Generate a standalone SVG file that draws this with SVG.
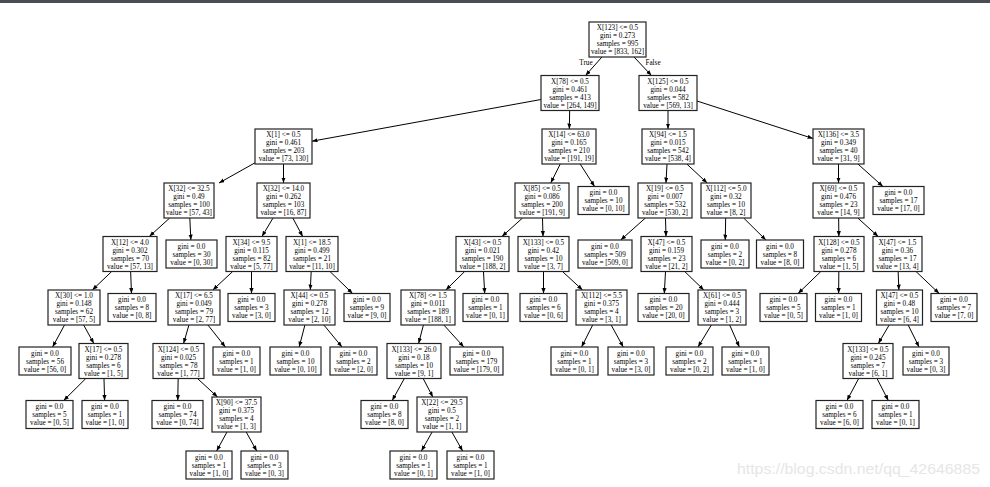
<svg xmlns="http://www.w3.org/2000/svg" width="990" height="487" viewBox="0 0 990 487">
<defs>
<marker id="a" markerWidth="6" markerHeight="5" refX="5.5" refY="2.1" orient="auto" markerUnits="userSpaceOnUse"><path d="M0,0 L5.5,2.1 L0,4.2 z" fill="#000"/></marker>
<style>
.nd rect{fill:#fff;stroke:#222;stroke-width:1.2}
text{font-family:"Liberation Serif","Times New Roman",serif;font-size:7.2px;text-anchor:middle;fill:#000}
.ed line{stroke:#000;stroke-width:1;marker-end:url(#a)}
.lb{font-size:7.2px}
.wm{font-family:"Liberation Sans",Arial,sans-serif;font-size:15px;fill:#e6e6e6;text-anchor:start}
</style>
</defs>
<rect x="0" y="0" width="990" height="487" fill="#fff"/>
<rect x="0" y="0" width="990" height="3" fill="#4a4d52"/>
<text class="wm" x="737" y="474" textLength="243" lengthAdjust="spacingAndGlyphs">https://blog.csdn.net/qq_42646885</text>
<g class="ed">
<line x1="601.96" y1="57" x2="585.54" y2="75.5"/>
<line x1="634.02" y1="57" x2="651.48" y2="75.5"/>
<line x1="541" y1="99.5" x2="312" y2="141.2"/>
<line x1="569.67" y1="110.5" x2="569.33" y2="129"/>
<line x1="668" y1="110.5" x2="668" y2="129"/>
<line x1="697" y1="101" x2="813" y2="138.5"/>
<line x1="255" y1="162.8" x2="219" y2="183"/>
<line x1="283.5" y1="164" x2="283.5" y2="183"/>
<line x1="560.25" y1="164" x2="550.75" y2="183"/>
<line x1="580.18" y1="164" x2="594.56" y2="186.5"/>
<line x1="667.03" y1="164" x2="665.97" y2="183"/>
<line x1="686.8" y1="164" x2="707.2" y2="183"/>
<line x1="838.5" y1="164" x2="838.5" y2="183"/>
<line x1="857.94" y1="164" x2="882.94" y2="186.5"/>
<line x1="169.7" y1="218" x2="149.3" y2="236.5"/>
<line x1="189.82" y1="218" x2="190.85" y2="240"/>
<line x1="273.03" y1="218" x2="261.97" y2="236.5"/>
<line x1="292.82" y1="218" x2="302.68" y2="236.5"/>
<line x1="522.54" y1="218" x2="501.96" y2="236.5"/>
<line x1="542.49" y1="218" x2="543.01" y2="236.5"/>
<line x1="645.37" y1="218" x2="620.7" y2="240"/>
<line x1="665.49" y1="218" x2="666.01" y2="236.5"/>
<line x1="725.67" y1="218" x2="725.26" y2="240"/>
<line x1="743.66" y1="218" x2="765.87" y2="240"/>
<line x1="838.66" y1="218" x2="838.84" y2="236.5"/>
<line x1="857.8" y1="218" x2="878.2" y2="236.5"/>
<line x1="111.68" y1="271.5" x2="92.32" y2="290"/>
<line x1="130.65" y1="271.5" x2="131.48" y2="293.5"/>
<line x1="232.69" y1="271.5" x2="212.81" y2="290"/>
<line x1="251.5" y1="271.5" x2="251.5" y2="293.5"/>
<line x1="311.18" y1="271.5" x2="310.32" y2="290"/>
<line x1="329.99" y1="271.5" x2="352.61" y2="293.5"/>
<line x1="464.67" y1="271.5" x2="445.83" y2="290"/>
<line x1="483.48" y1="271.5" x2="484.71" y2="293.5"/>
<line x1="543.5" y1="271.5" x2="543.5" y2="293.5"/>
<line x1="562.47" y1="271.5" x2="582.53" y2="290"/>
<line x1="665.52" y1="271.5" x2="664.29" y2="293.5"/>
<line x1="684.66" y1="271.5" x2="703.84" y2="290"/>
<line x1="820.84" y1="271.5" x2="798.02" y2="293.5"/>
<line x1="838.84" y1="271.5" x2="838.63" y2="293.5"/>
<line x1="898.15" y1="271.5" x2="898.85" y2="290"/>
<line x1="915.98" y1="271.5" x2="939.21" y2="293.5"/>
<line x1="64.51" y1="325" x2="52.59" y2="347"/>
<line x1="83.65" y1="325" x2="93.85" y2="343.5"/>
<line x1="188.93" y1="325" x2="183.57" y2="343.5"/>
<line x1="207.9" y1="325" x2="225.38" y2="347"/>
<line x1="304.92" y1="325" x2="299.16" y2="347"/>
<line x1="323.89" y1="325" x2="341.99" y2="347"/>
<line x1="423.42" y1="325" x2="418.58" y2="343.5"/>
<line x1="443.87" y1="325" x2="463.81" y2="347"/>
<line x1="592.67" y1="325" x2="581.57" y2="347"/>
<line x1="611.15" y1="325" x2="623.28" y2="347"/>
<line x1="711.37" y1="325" x2="698" y2="347"/>
<line x1="729.69" y1="325" x2="739.35" y2="347"/>
<line x1="889.2" y1="325" x2="878.3" y2="343.5"/>
<line x1="908.17" y1="325" x2="919.07" y2="347"/>
<line x1="85.84" y1="378.5" x2="63.63" y2="400.5"/>
<line x1="103.99" y1="378.5" x2="104.61" y2="400.5"/>
<line x1="178.17" y1="378.5" x2="177.76" y2="400.5"/>
<line x1="197.47" y1="378.5" x2="217.53" y2="397"/>
<line x1="404.35" y1="378.5" x2="392.22" y2="400.5"/>
<line x1="423.16" y1="378.5" x2="432.84" y2="397"/>
<line x1="858.68" y1="378.5" x2="846.96" y2="400.5"/>
<line x1="877" y1="378.5" x2="888.3" y2="400.5"/>
<line x1="226.97" y1="432" x2="216.62" y2="451"/>
<line x1="246.2" y1="432" x2="256.74" y2="451"/>
<line x1="432.12" y1="432" x2="421.4" y2="451"/>
<line x1="451.88" y1="432" x2="462.6" y2="451"/>
</g>
<text class="lb" x="586" y="64.5">True</text>
<text class="lb" x="653" y="64.5">False</text>
<g class="nd">
<g id="n0"><rect x="589" y="22" width="57" height="35"/><text x="617.5" y="30">X[123] &lt;= 0.5</text><text x="617.5" y="38">gini = 0.273</text><text x="617.5" y="46">samples = 995</text><text x="617.5" y="54">value = [833, 162]</text></g>
<g id="n1"><rect x="541" y="75.5" width="58" height="35"/><text x="570" y="83.5">X[78] &lt;= 0.5</text><text x="570" y="91.5">gini = 0.461</text><text x="570" y="99.5">samples = 413</text><text x="570" y="107.5">value = [264, 149]</text></g>
<g id="n2"><rect x="639" y="75.5" width="58" height="35"/><text x="668" y="83.5">X[125] &lt;= 0.5</text><text x="668" y="91.5">gini = 0.044</text><text x="668" y="99.5">samples = 582</text><text x="668" y="107.5">value = [569, 13]</text></g>
<g id="n3"><rect x="255" y="129" width="57" height="35"/><text x="283.5" y="137">X[1] &lt;= 0.5</text><text x="283.5" y="145">gini = 0.461</text><text x="283.5" y="153">samples = 203</text><text x="283.5" y="161">value = [73, 130]</text></g>
<g id="n4"><rect x="542" y="129" width="54" height="35"/><text x="569" y="137">X[14] &lt;= 63.0</text><text x="569" y="145">gini = 0.165</text><text x="569" y="153">samples = 210</text><text x="569" y="161">value = [191, 19]</text></g>
<g id="n5"><rect x="642" y="129" width="52" height="35"/><text x="668" y="137">X[94] &lt;= 1.5</text><text x="668" y="145">gini = 0.015</text><text x="668" y="153">samples = 542</text><text x="668" y="161">value = [538, 4]</text></g>
<g id="n6"><rect x="813" y="129" width="51" height="35"/><text x="838.5" y="137">X[136] &lt;= 3.5</text><text x="838.5" y="145">gini = 0.349</text><text x="838.5" y="153">samples = 40</text><text x="838.5" y="161">value = [31, 9]</text></g>
<g id="n7"><rect x="164" y="183" width="50" height="35"/><text x="189" y="191">X[32] &lt;= 32.5</text><text x="189" y="199">gini = 0.49</text><text x="189" y="207">samples = 100</text><text x="189" y="215">value = [57, 43]</text></g>
<g id="n8"><rect x="257" y="183" width="53" height="35"/><text x="283.5" y="191">X[32] &lt;= 14.0</text><text x="283.5" y="199">gini = 0.262</text><text x="283.5" y="207">samples = 103</text><text x="283.5" y="215">value = [16, 87]</text></g>
<g id="n9"><rect x="515" y="183" width="54" height="35"/><text x="542" y="191">X[85] &lt;= 0.5</text><text x="542" y="199">gini = 0.086</text><text x="542" y="207">samples = 200</text><text x="542" y="215">value = [191, 9]</text></g>
<g id="n10"><rect x="578" y="186.5" width="51" height="28"/><text x="603.5" y="195">gini = 0.0</text><text x="603.5" y="203">samples = 10</text><text x="603.5" y="211">value = [0, 10]</text></g>
<g id="n11"><rect x="638" y="183" width="54" height="35"/><text x="665" y="191">X[19] &lt;= 0.5</text><text x="665" y="199">gini = 0.007</text><text x="665" y="207">samples = 532</text><text x="665" y="215">value = [530, 2]</text></g>
<g id="n12"><rect x="701" y="183" width="50" height="35"/><text x="726" y="191">X[112] &lt;= 5.0</text><text x="726" y="199">gini = 0.32</text><text x="726" y="207">samples = 10</text><text x="726" y="215">value = [8, 2]</text></g>
<g id="n13"><rect x="813" y="183" width="51" height="35"/><text x="838.5" y="191">X[69] &lt;= 0.5</text><text x="838.5" y="199">gini = 0.476</text><text x="838.5" y="207">samples = 23</text><text x="838.5" y="215">value = [14, 9]</text></g>
<g id="n14"><rect x="873" y="186.5" width="51" height="28"/><text x="898.5" y="195">gini = 0.0</text><text x="898.5" y="203">samples = 17</text><text x="898.5" y="211">value = [17, 0]</text></g>
<g id="n15"><rect x="103" y="236.5" width="54" height="35"/><text x="130" y="244.5">X[12] &lt;= 4.0</text><text x="130" y="252.5">gini = 0.302</text><text x="130" y="260.5">samples = 70</text><text x="130" y="268.5">value = [57, 13]</text></g>
<g id="n16"><rect x="166" y="240" width="51" height="28"/><text x="191.5" y="248.5">gini = 0.0</text><text x="191.5" y="256.5">samples = 30</text><text x="191.5" y="264.5">value = [0, 30]</text></g>
<g id="n17"><rect x="226" y="236.5" width="51" height="35"/><text x="251.5" y="244.5">X[34] &lt;= 9.5</text><text x="251.5" y="252.5">gini = 0.115</text><text x="251.5" y="260.5">samples = 82</text><text x="251.5" y="268.5">value = [5, 77]</text></g>
<g id="n18"><rect x="286" y="236.5" width="52" height="35"/><text x="312" y="244.5">X[1] &lt;= 18.5</text><text x="312" y="252.5">gini = 0.499</text><text x="312" y="260.5">samples = 21</text><text x="312" y="268.5">value = [11, 10]</text></g>
<g id="n19"><rect x="456" y="236.5" width="53" height="35"/><text x="482.5" y="244.5">X[43] &lt;= 0.5</text><text x="482.5" y="252.5">gini = 0.021</text><text x="482.5" y="260.5">samples = 190</text><text x="482.5" y="268.5">value = [188, 2]</text></g>
<g id="n20"><rect x="518" y="236.5" width="51" height="35"/><text x="543.5" y="244.5">X[133] &lt;= 0.5</text><text x="543.5" y="252.5">gini = 0.42</text><text x="543.5" y="260.5">samples = 10</text><text x="543.5" y="268.5">value = [3, 7]</text></g>
<g id="n21"><rect x="578" y="240" width="54" height="28"/><text x="605" y="248.5">gini = 0.0</text><text x="605" y="256.5">samples = 509</text><text x="605" y="264.5">value = [509, 0]</text></g>
<g id="n22"><rect x="641" y="236.5" width="51" height="35"/><text x="666.5" y="244.5">X[47] &lt;= 0.5</text><text x="666.5" y="252.5">gini = 0.159</text><text x="666.5" y="260.5">samples = 23</text><text x="666.5" y="268.5">value = [21, 2]</text></g>
<g id="n23"><rect x="701" y="240" width="48" height="28"/><text x="725" y="248.5">gini = 0.0</text><text x="725" y="256.5">samples = 2</text><text x="725" y="264.5">value = [0, 2]</text></g>
<g id="n24"><rect x="756.5" y="240" width="47" height="28"/><text x="780" y="248.5">gini = 0.0</text><text x="780" y="256.5">samples = 8</text><text x="780" y="264.5">value = [8, 0]</text></g>
<g id="n25"><rect x="814" y="236.5" width="50" height="35"/><text x="839" y="244.5">X[128] &lt;= 0.5</text><text x="839" y="252.5">gini = 0.278</text><text x="839" y="260.5">samples = 6</text><text x="839" y="268.5">value = [1, 5]</text></g>
<g id="n26"><rect x="873" y="236.5" width="49" height="35"/><text x="897.5" y="244.5">X[47] &lt;= 1.5</text><text x="897.5" y="252.5">gini = 0.36</text><text x="897.5" y="260.5">samples = 17</text><text x="897.5" y="268.5">value = [13, 4]</text></g>
<g id="n27"><rect x="48" y="290" width="52" height="35"/><text x="74" y="298">X[30] &lt;= 1.0</text><text x="74" y="306">gini = 0.148</text><text x="74" y="314">samples = 62</text><text x="74" y="322">value = [57, 5]</text></g>
<g id="n28"><rect x="108" y="293.5" width="48" height="28"/><text x="132" y="302">gini = 0.0</text><text x="132" y="310">samples = 8</text><text x="132" y="318">value = [0, 8]</text></g>
<g id="n29"><rect x="168" y="290" width="52" height="35"/><text x="194" y="298">X[17] &lt;= 6.5</text><text x="194" y="306">gini = 0.049</text><text x="194" y="314">samples = 79</text><text x="194" y="322">value = [2, 77]</text></g>
<g id="n30"><rect x="228" y="293.5" width="47" height="28"/><text x="251.5" y="302">gini = 0.0</text><text x="251.5" y="310">samples = 3</text><text x="251.5" y="318">value = [3, 0]</text></g>
<g id="n31"><rect x="284" y="290" width="51" height="35"/><text x="309.5" y="298">X[44] &lt;= 0.5</text><text x="309.5" y="306">gini = 0.278</text><text x="309.5" y="314">samples = 12</text><text x="309.5" y="322">value = [2, 10]</text></g>
<g id="n32"><rect x="344" y="293.5" width="46" height="28"/><text x="367" y="302">gini = 0.0</text><text x="367" y="310">samples = 9</text><text x="367" y="318">value = [9, 0]</text></g>
<g id="n33"><rect x="401" y="290" width="54" height="35"/><text x="428" y="298">X[78] &lt;= 1.5</text><text x="428" y="306">gini = 0.011</text><text x="428" y="314">samples = 189</text><text x="428" y="322">value = [188, 1]</text></g>
<g id="n34"><rect x="463" y="293.5" width="45" height="28"/><text x="485.5" y="302">gini = 0.0</text><text x="485.5" y="310">samples = 1</text><text x="485.5" y="318">value = [0, 1]</text></g>
<g id="n35"><rect x="520" y="293.5" width="47" height="28"/><text x="543.5" y="302">gini = 0.0</text><text x="543.5" y="310">samples = 6</text><text x="543.5" y="318">value = [0, 6]</text></g>
<g id="n36"><rect x="576" y="290" width="51" height="35"/><text x="601.5" y="298">X[112] &lt;= 5.5</text><text x="601.5" y="306">gini = 0.375</text><text x="601.5" y="314">samples = 4</text><text x="601.5" y="322">value = [3, 1]</text></g>
<g id="n37"><rect x="638" y="293.5" width="51" height="28"/><text x="663.5" y="302">gini = 0.0</text><text x="663.5" y="310">samples = 20</text><text x="663.5" y="318">value = [20, 0]</text></g>
<g id="n38"><rect x="698" y="290" width="48" height="35"/><text x="722" y="298">X[61] &lt;= 0.5</text><text x="722" y="306">gini = 0.444</text><text x="722" y="314">samples = 3</text><text x="722" y="322">value = [1, 2]</text></g>
<g id="n39"><rect x="760" y="293.5" width="47" height="28"/><text x="783.5" y="302">gini = 0.0</text><text x="783.5" y="310">samples = 5</text><text x="783.5" y="318">value = [0, 5]</text></g>
<g id="n40"><rect x="815.5" y="293.5" width="46" height="28"/><text x="838.5" y="302">gini = 0.0</text><text x="838.5" y="310">samples = 1</text><text x="838.5" y="318">value = [1, 0]</text></g>
<g id="n41"><rect x="876.5" y="290" width="46" height="35"/><text x="899.5" y="298">X[47] &lt;= 0.5</text><text x="899.5" y="306">gini = 0.48</text><text x="899.5" y="314">samples = 10</text><text x="899.5" y="322">value = [6, 4]</text></g>
<g id="n42"><rect x="931" y="293.5" width="46" height="28"/><text x="954" y="302">gini = 0.0</text><text x="954" y="310">samples = 7</text><text x="954" y="318">value = [7, 0]</text></g>
<g id="n43"><rect x="19" y="347" width="52" height="28"/><text x="45" y="355.5">gini = 0.0</text><text x="45" y="363.5">samples = 56</text><text x="45" y="371.5">value = [56, 0]</text></g>
<g id="n44"><rect x="79" y="343.5" width="49" height="35"/><text x="103.5" y="351.5">X[17] &lt;= 0.5</text><text x="103.5" y="359.5">gini = 0.278</text><text x="103.5" y="367.5">samples = 6</text><text x="103.5" y="375.5">value = [1, 5]</text></g>
<g id="n45"><rect x="153" y="343.5" width="51" height="35"/><text x="178.5" y="351.5">X[124] &lt;= 0.5</text><text x="178.5" y="359.5">gini = 0.025</text><text x="178.5" y="367.5">samples = 78</text><text x="178.5" y="375.5">value = [1, 77]</text></g>
<g id="n46"><rect x="213" y="347" width="47" height="28"/><text x="236.5" y="355.5">gini = 0.0</text><text x="236.5" y="363.5">samples = 1</text><text x="236.5" y="371.5">value = [1, 0]</text></g>
<g id="n47"><rect x="270" y="347" width="51" height="28"/><text x="295.5" y="355.5">gini = 0.0</text><text x="295.5" y="363.5">samples = 10</text><text x="295.5" y="371.5">value = [0, 10]</text></g>
<g id="n48"><rect x="330" y="347" width="47" height="28"/><text x="353.5" y="355.5">gini = 0.0</text><text x="353.5" y="363.5">samples = 2</text><text x="353.5" y="371.5">value = [2, 0]</text></g>
<g id="n49"><rect x="387" y="343.5" width="54" height="35"/><text x="414" y="351.5">X[133] &lt;= 26.0</text><text x="414" y="359.5">gini = 0.18</text><text x="414" y="367.5">samples = 10</text><text x="414" y="375.5">value = [9, 1]</text></g>
<g id="n50"><rect x="450" y="347" width="53" height="28"/><text x="476.5" y="355.5">gini = 0.0</text><text x="476.5" y="363.5">samples = 179</text><text x="476.5" y="371.5">value = [179, 0]</text></g>
<g id="n51"><rect x="551" y="347" width="47" height="28"/><text x="574.5" y="355.5">gini = 0.0</text><text x="574.5" y="363.5">samples = 1</text><text x="574.5" y="371.5">value = [0, 1]</text></g>
<g id="n52"><rect x="608" y="347" width="46" height="28"/><text x="631" y="355.5">gini = 0.0</text><text x="631" y="363.5">samples = 3</text><text x="631" y="371.5">value = [3, 0]</text></g>
<g id="n53"><rect x="666" y="347" width="47" height="28"/><text x="689.5" y="355.5">gini = 0.0</text><text x="689.5" y="363.5">samples = 2</text><text x="689.5" y="371.5">value = [0, 2]</text></g>
<g id="n54"><rect x="722" y="347" width="47" height="28"/><text x="745.5" y="355.5">gini = 0.0</text><text x="745.5" y="363.5">samples = 1</text><text x="745.5" y="371.5">value = [1, 0]</text></g>
<g id="n55"><rect x="843" y="343.5" width="50" height="35"/><text x="868" y="351.5">X[133] &lt;= 0.5</text><text x="868" y="359.5">gini = 0.245</text><text x="868" y="367.5">samples = 7</text><text x="868" y="375.5">value = [6, 1]</text></g>
<g id="n56"><rect x="903" y="347" width="46" height="28"/><text x="926" y="355.5">gini = 0.0</text><text x="926" y="363.5">samples = 3</text><text x="926" y="371.5">value = [0, 3]</text></g>
<g id="n57"><rect x="26" y="400.5" width="47" height="28"/><text x="49.5" y="409">gini = 0.0</text><text x="49.5" y="417">samples = 5</text><text x="49.5" y="425">value = [0, 5]</text></g>
<g id="n58"><rect x="82" y="400.5" width="46" height="28"/><text x="105" y="409">gini = 0.0</text><text x="105" y="417">samples = 1</text><text x="105" y="425">value = [1, 0]</text></g>
<g id="n59"><rect x="152" y="400.5" width="51" height="28"/><text x="177.5" y="409">gini = 0.0</text><text x="177.5" y="417">samples = 74</text><text x="177.5" y="425">value = [0, 74]</text></g>
<g id="n60"><rect x="212" y="397" width="49" height="35"/><text x="236.5" y="405">X[90] &lt;= 37.5</text><text x="236.5" y="413">gini = 0.375</text><text x="236.5" y="421">samples = 4</text><text x="236.5" y="429">value = [1, 3]</text></g>
<g id="n61"><rect x="361" y="400.5" width="47" height="28"/><text x="384.5" y="409">gini = 0.0</text><text x="384.5" y="417">samples = 8</text><text x="384.5" y="425">value = [8, 0]</text></g>
<g id="n62"><rect x="417" y="397" width="50" height="35"/><text x="442" y="405">X[22] &lt;= 29.5</text><text x="442" y="413">gini = 0.5</text><text x="442" y="421">samples = 2</text><text x="442" y="429">value = [1, 1]</text></g>
<g id="n63"><rect x="816" y="400.5" width="47" height="28"/><text x="839.5" y="409">gini = 0.0</text><text x="839.5" y="417">samples = 6</text><text x="839.5" y="425">value = [6, 0]</text></g>
<g id="n64"><rect x="872" y="400.5" width="47" height="28"/><text x="895.5" y="409">gini = 0.0</text><text x="895.5" y="417">samples = 1</text><text x="895.5" y="425">value = [0, 1]</text></g>
<g id="n65"><rect x="186" y="451" width="46" height="28"/><text x="209" y="459.5">gini = 0.0</text><text x="209" y="467.5">samples = 1</text><text x="209" y="475.5">value = [1, 0]</text></g>
<g id="n66"><rect x="241" y="451" width="47" height="28"/><text x="264.5" y="459.5">gini = 0.0</text><text x="264.5" y="467.5">samples = 3</text><text x="264.5" y="475.5">value = [0, 3]</text></g>
<g id="n67"><rect x="390" y="451" width="47" height="28"/><text x="413.5" y="459.5">gini = 0.0</text><text x="413.5" y="467.5">samples = 1</text><text x="413.5" y="475.5">value = [0, 1]</text></g>
<g id="n68"><rect x="447" y="451" width="47" height="28"/><text x="470.5" y="459.5">gini = 0.0</text><text x="470.5" y="467.5">samples = 1</text><text x="470.5" y="475.5">value = [1, 0]</text></g>
</g>
</svg>
